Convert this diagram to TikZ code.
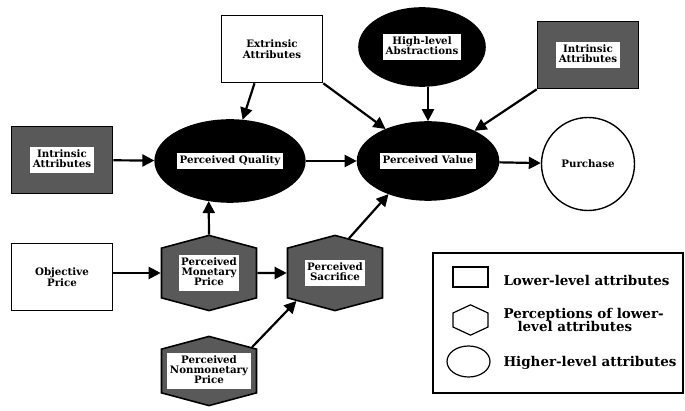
\documentclass[tikz,border=0pt]{standalone}
\usepackage{fontspec}
\setmainfont{DejaVu Serif}
\usetikzlibrary{shapes.geometric,shapes.symbols,arrows.meta}
\newcommand{\wlab}[1]{{\setlength{\fboxsep}{2.5bp}\colorbox{white}{\renewcommand{\arraystretch}{0.8}\begin{tabular}{@{}c@{}}#1\end{tabular}}}}

\begin{document}
\begin{tikzpicture}[x=10bp,y=10bp,
  every node/.style={font=\bfseries\fontsize{10.3}{11.5}\selectfont},
  lowbox/.style={draw, line width=1.6bp, rectangle, fill=white, align=center, minimum width=101bp, minimum height=67bp},
  shadebox/.style={lowbox, fill=black!65},
  hexa/.style={draw, line width=1.6bp, signal, signal to=north and south, signal pointer angle=150, fill=black!65, minimum width=95bp, minimum height=66bp, inner sep=0pt},
  highell/.style={draw, line width=1.6bp, ellipse, fill=black, inner sep=0pt},
  arr/.style={line width=2.2bp, -{Triangle[length=12bp,width=12bp]}},
  legtext/.style={anchor=west, font=\bfseries\fontsize{13.5}{14}\selectfont, align=left}]
\useasboundingbox (0,0) rectangle (68.5,41.1);

\node[shadebox] (a) at (6.2,25.1) {\wlab{Intrinsic\\Attributes}};
\node[lowbox] (b) at (27.2,36.2) {Extrinsic\\[-1pt]Attributes};
\node[highell, minimum width=126bp, minimum height=78bp] (c) at (42.2,36.4) {\wlab{High-level\\Abstractions}};
\node[shadebox] (d) at (58.8,35.6) {\wlab{Intrinsic\\Attributes}};

\node[highell, minimum width=144bp, minimum height=82bp] (q) at (23.0,25.0) {\wlab{Perceived Quality}};
\node[highell, minimum width=141bp, minimum height=78bp] (v) at (42.8,25.0) {\wlab{Perceived Value}};
\node[draw, circle, line width=1.4bp, minimum size=93bp] (p) at (58.8,24.7) {Purchase};

\node[lowbox] (o) at (6.2,13.4) {Objective\\[-1pt]Price};
\node[hexa] (m) at (20.9,13.8) {\wlab{Perceived\\Monetary\\Price}};
\node[hexa] (s) at (33.5,13.8) {\wlab{Perceived\\Sacrifice}};
\node[hexa] (n) at (20.9,4.0) {\wlab{Perceived\\Nonmonetary\\Price}};

\path[draw,arr] (a) -- (q);
\path[draw,arr] (b.243) -- (q.73);
\path[draw,arr] (b.south east) -- (v.143);
\path[draw,arr] (c.south -| v.north) -- (v.north);
\path[draw,arr] (d.south west) -- (v.33);
\path[draw,arr] (q) -- (v);
\path[draw,arr] (v) -- (p);
\path[draw,arr] (m.north) -- (q.242);
\path[draw,arr] (o.east |- m.west) -- (m.west);
\path[draw,arr] (m) -- (s);
\path[draw,arr] (n.29) -- (s.216);
\path[draw,arr] (s.68) -- (v.220);

% legend
\node[draw, line width=1.3bp, minimum width=250bp, minimum height=140bp] (g) at (55.8,8.8) {};
\node[draw, line width=1.2bp, minimum width=35bp, minimum height=20bp] (l1) at (47.05,13.4) {};
\node[draw, line width=1.2bp, signal, signal to=north and south, signal pointer angle=130, minimum width=35bp, minimum height=14bp, inner sep=0pt] (l2) at (47.05,9.1) {};
\node[draw, line width=1.2bp, ellipse, minimum width=43bp, minimum height=31bp] (l3) at (46.85,4.95) {};
\node[legtext] (t1) at (50.0,13.1) {Lower-level attributes};
\node[legtext] (t2) at (50.0,9.1) {Perceptions of lower-\\\hspace*{14bp}level attributes};
\node[legtext] (t3) at (50.0,4.8) {Higher-level attributes};
\end{tikzpicture}
\end{document}
